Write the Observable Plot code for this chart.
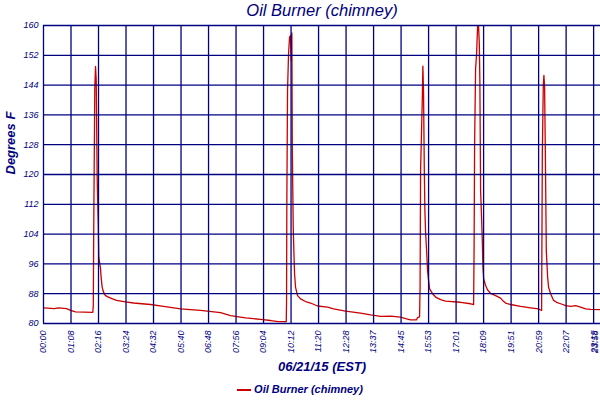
<!DOCTYPE html>
<html>
<head>
<meta charset="utf-8">
<script src="https://cdn.jsdelivr.net/npm/d3@7"></script>
<script src="https://cdn.jsdelivr.net/npm/@observablehq/plot@0.6"></script>
<style>
  body { margin: 0; background: #fff; }
  #chart svg { display: block; }
  #legend { width: 600px; height: 16px; line-height: 16px; text-align: center; margin-top: 5px;
    font: italic bold 11px "Liberation Sans", Arial, sans-serif; color: #000080; }
  #legend .sw { display: inline-block; width: 14px; height: 2px; background: #cc0000;
    vertical-align: middle; margin-right: 3px; }
</style>
</head>
<body>
<div id="chart"></div>
<div id="legend"><span class="sw"></span>Oil Burner (chimney)</div>
<script>
// x positions are minutes along the displayed (evenly spaced) time axis
const times = [0, 27, 37, 57, 67, 79, 121.9, 123.1, 124.4, 126.8, 128.6, 130.3, 132.8, 135.3, 136.7,
  140.9, 142.7, 145.1, 147.6, 150.1, 153.3, 160.7, 170.6, 180.5, 202.8, 222.5, 264.6, 296.7,
  338.8, 388.2, 437.7, 462.4, 499.5, 536.6, 561.3, 581.1, 600.1, 600.9, 601.6, 603.3, 605.8,
  608.3, 610.8, 612.5, 614, 615, 617.4, 618.9, 620.7, 623.1, 628.1, 635.5, 647.9, 660.2,
  677.5, 702.3, 717.1, 746.8, 783.9, 808.6, 833.3, 858.1, 882.8, 895.1, 907.5, 922.3, 924.8,
  929.7, 931, 932.2, 936.4, 937.9, 939.6, 941.4, 942.9, 944.6, 947.1, 949.5, 952, 954.5,
  961.9, 969.3, 981.7, 994, 1031.1, 1055.8, 1063.3, 1064.5, 1065.7, 1068.2, 1070.7, 1073.2,
  1075.6, 1077.4, 1078.8, 1080.6, 1083.1, 1084.8, 1086.3, 1088, 1093, 1097.9, 1105.3, 1117.7,
  1130, 1135, 1142.4, 1154.8, 1179.5, 1204.2, 1224, 1231.4, 1233.2, 1235.6, 1237.1, 1238.8,
  1240.6, 1243, 1246.3, 1248.7, 1253.7, 1261.1, 1268.5, 1278.4, 1290.8, 1303.1, 1315.5,
  1327.8, 1340.2, 1352.6, 1377];
const temps = [84.2, 84.0, 84.2, 84.0, 83.5, 83.1, 83.0, 84.8, 109, 143, 149, 145.4, 118.4, 106.9, 97.8,
  94.8, 92.1, 89.7, 88.7, 88.0, 87.5, 87.1, 86.6, 86.2, 85.8, 85.5, 85.1, 84.6,
  83.9, 83.5, 82.9, 82.1, 81.5, 81.1, 80.8, 80.5, 80.5, 86.2, 113, 142.6, 152.4,
  156.9, 157.3, 150.6, 158.0, 127.6, 106, 99.6, 93.3, 89.7, 87.5, 86.6, 85.9, 85.5,
  84.7, 84.4, 83.9, 83.3, 82.8, 82.3, 81.9, 82.0, 81.7, 81.3, 81.0, 81.0, 81.6,
  81.8, 90, 121, 139.9, 149.1, 141.6, 121.5, 110, 104.5, 99.6, 94.2, 91.5, 89.3,
  88.0, 87.1, 86.4, 86.0, 85.7, 85.3, 85.1, 100, 127.3, 148.4, 152.4, 159.8,
  159.8, 155.1, 144.8, 115.7, 108, 102.3, 95.1, 92.0, 90.2, 89.0, 88.1, 87.5,
  86.8, 86.2, 85.5, 85.1, 84.6, 84.2, 83.9, 83.5, 126, 143.9, 146.6, 143.4,
  126.4, 99.6, 92.4, 89.7, 88.0, 86.2, 85.7, 85.3, 84.8, 84.6, 84.8,
  84.4, 83.9, 83.8, 83.7];

const xTickLabels = ["00:00", "01:08", "02:16", "03:24", "04:32", "05:40", "06:48", "07:56", "09:04",
  "10:12", "11:20", "12:28", "13:37", "14:45", "15:53", "17:01", "18:09", "19:51", "20:59",
  "22:07", "23:15", "23:58"];
const xTickPos = [0, 68, 136, 204, 272, 340, 408, 476, 544, 612, 680, 748, 816, 884, 952, 1020,
  1088, 1156, 1224, 1292, 1360, 1364];
const yTicks = [80, 88, 96, 104, 112, 120, 128, 136, 144, 152, 160];

const labelMap = new Map(xTickPos.map((p, i) => [p, xTickLabels[i]]));
const data = times.map((t, i) => ({t, v: temps[i]}));
const navy = "#000080";

const chart = Plot.plot({
  width: 600,
  height: 378,
  marginLeft: 43,
  marginRight: 0,
  marginTop: 25,
  marginBottom: 55,
  style: {fontFamily: "'Liberation Sans', Arial, sans-serif", fontStyle: "italic", color: navy, background: "#fff"},
  x: {domain: [0, 1377]},
  y: {domain: [80, 160]},
  marks: [
    Plot.line(data, {x: "t", y: "v", stroke: "#cc0000", strokeWidth: 1.3, clip: true}),
    Plot.ruleX(xTickPos.slice(0, 21), {stroke: navy, strokeWidth: 1.3}),
    Plot.ruleY(yTicks, {stroke: navy, strokeWidth: 1.3}),
    Plot.axisY({ticks: yTicks, tickSize: 0, tickPadding: 5, fontSize: 9, label: null, fill: navy}),
    Plot.axisX({ticks: xTickPos, tickFormat: d => labelMap.get(d), tickRotate: -90, tickSize: 0,
      tickPadding: 7, fontSize: 9, label: null, fill: navy}),
    Plot.text(["Oil Burner (chimney)"], {frameAnchor: "top", dy: -15, fontSize: 16.5, fill: navy, lineAnchor: "middle"}),
    Plot.text(["06/21/15 (EST)"], {frameAnchor: "bottom", dy: 43, fontSize: 13, fontWeight: "bold", fill: navy, lineAnchor: "middle"}),
    Plot.text(["Degrees F"], {frameAnchor: "left", dx: -33, rotate: -90, fontSize: 13, fontWeight: "bold", fill: navy, lineAnchor: "middle"})
  ]
});
document.getElementById("chart").appendChild(chart);
</script>
</body>
</html>
